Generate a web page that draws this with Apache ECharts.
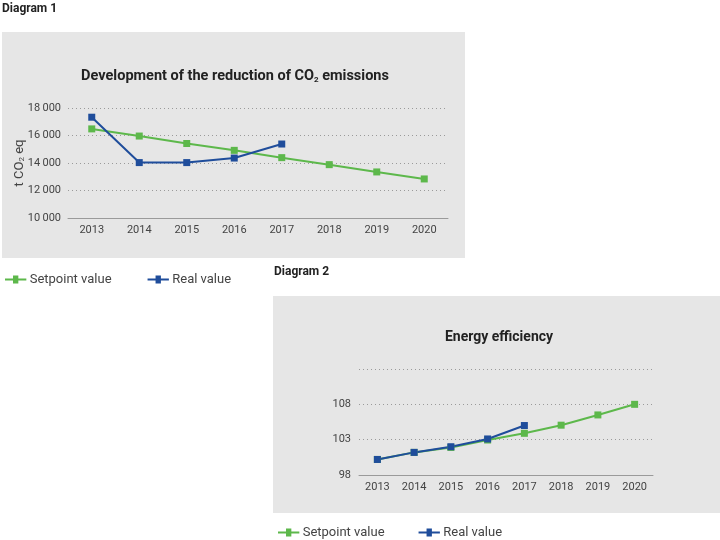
<!DOCTYPE html>
<html>
<head>
<meta charset="utf-8">
<script src="https://cdn.jsdelivr.net/npm/echarts@6/dist/echarts.min.js"></script>
<style>
  html, body { margin: 0; padding: 0; background: #fff; }
  #chart { width: 720px; height: 540px; }
</style>
</head>
<body>
<div id="chart"></div>
<script>
// shared categories
const years = ['2013', '2014', '2015', '2016', '2017', '2018', '2019', '2020'];

// Diagram 1: CO2 emissions (t CO2 eq)
const co2Setpoint = [16480, 15960, 15420, 14920, 14390, 13880, 13350, 12840];
const co2Real = [17330, 14030, 14030, 14360, 15380];
const co2Ticks = [10000, 12000, 14000, 16000, 18000];

// Diagram 2: energy efficiency
const effSetpoint = [100.2, 101.2, 101.9, 102.95, 103.9, 105.05, 106.5, 108.0];
const effReal = [100.2, 101.2, 102.0, 103.1, 105.0];
const effTicks = [98, 103, 108];

const GREEN = '#5db84b';
const BLUE = '#1f4d9b';
const FONT = 'Roboto, "Liberation Sans", sans-serif';
// line with a square in the middle, like the printed legend
const LEGEND_ICON = 'path://M0,3.5 L9,3.5 L9,0 L15,0 L15,3.5 L24,3.5 L24,5.5 L15,5.5 L15,9 L9,9 L9,5.5 L0,5.5 Z';

const chart = echarts.init(document.getElementById('chart'));

function lineSeries(name, data, color, idx) {
  return {
    name: name,
    type: 'line',
    xAxisIndex: idx,
    yAxisIndex: idx,
    data: data,
    symbol: 'rect',
    symbolSize: 7,
    lineStyle: { color: color, width: 2 },
    itemStyle: { color: color },
    emphasis: { disabled: true },
    animation: false
  };
}

function catAxis(idx) {
  return {
    type: 'category',
    gridIndex: idx,
    data: years,
    boundaryGap: true,
    axisLine: { lineStyle: { color: '#9a9a9a', width: 1 } },
    axisTick: { inside: true, length: 4, lineStyle: { color: '#9a9a9a' } },
    axisLabel: { color: '#444', fontSize: 11, fontFamily: FONT, margin: 7 },
    splitLine: { show: false }
  };
}

function legendAt(left, top, gap) {
  return {
    left: left, top: top,
    itemWidth: 22, itemHeight: 8, itemGap: gap,
    icon: LEGEND_ICON,
    data: [
      { name: 'Setpoint value', itemStyle: { color: GREEN } },
      { name: 'Real value', itemStyle: { color: BLUE } }
    ],
    textStyle: { fontSize: 13, color: '#444', fontFamily: FONT, padding: [0, 0, 0, -2] },
    selectedMode: false
  };
}

const gridLine = { show: true, lineStyle: { type: [1, 3], color: '#9a9a9a', width: 1 } };

const option = {
  backgroundColor: '#fff',
  textStyle: { fontFamily: FONT },
  graphic: [
    { type: 'rect', left: 2, top: 32, shape: { width: 463, height: 226 }, style: { fill: '#e6e6e6' }, z: -10 },
    { type: 'rect', left: 273, top: 296, shape: { width: 447, height: 217 }, style: { fill: '#e6e6e6' }, z: -10 },
    { type: 'text', left: 2, top: 3, style: { text: 'Diagram 1', font: 'bold 12px ' + FONT, fill: '#222' } },
    { type: 'text', left: 274, top: 266, style: { text: 'Diagram 2', font: 'bold 12px ' + FONT, fill: '#222' } }
  ],
  title: [
    {
      text: 'Development of the reduction of CO{sub|2} emissions',
      left: 230, top: 63, textAlign: 'center',
      textStyle: {
        fontSize: 14.5, fontWeight: 'bold', color: '#222', fontFamily: FONT,
        rich: { sub: { fontSize: 8, fontWeight: 'bold', color: '#222', verticalAlign: 'bottom', padding: [8, 0, 0, 0] } }
      }
    },
    {
      text: 'Energy efficiency',
      left: 494, top: 325, textAlign: 'center',
      textStyle: { fontSize: 14, fontWeight: 'bold', color: '#222', fontFamily: FONT }
    }
  ],
  legend: [legendAt(0, 268, 36), legendAt(273, 521, 34)],
  grid: [
    { left: 68, right: 272, top: 108, bottom: 322 },
    { left: 359, right: 67, top: 369, bottom: 65 }
  ],
  xAxis: [catAxis(0), catAxis(1)],
  yAxis: [
    {
      type: 'value', gridIndex: 0,
      min: co2Ticks[0], max: co2Ticks[co2Ticks.length - 1], interval: 2000,
      name: 't CO{sub|2} eq', nameLocation: 'middle', nameRotate: 90, nameGap: 42,
      nameMoveOverlap: false,
      nameTextStyle: {
        fontSize: 13, color: '#444', fontFamily: FONT,
        rich: { sub: { fontSize: 8, color: '#444', verticalAlign: 'bottom' } }
      },
      axisLine: { show: false },
      axisTick: { show: false },
      axisLabel: {
        color: '#444', fontSize: 11, fontFamily: FONT, margin: 7,
        formatter: v => co2Ticks.includes(v) ? String(v).replace(/(\d+)(\d{3})$/, '$1\u2009$2') : ''
      },
      splitLine: gridLine
    },
    {
      type: 'value', gridIndex: 1,
      min: 98, max: 113, interval: 5,
      axisLine: { show: false },
      axisTick: { show: false },
      axisLabel: {
        color: '#444', fontSize: 11, fontFamily: FONT, margin: 8,
        formatter: v => effTicks.includes(v) ? String(v) : ''
      },
      splitLine: gridLine
    }
  ],
  series: [
    lineSeries('Setpoint value', co2Setpoint, GREEN, 0),
    lineSeries('Real value', co2Real, BLUE, 0),
    lineSeries('Setpoint value', effSetpoint, GREEN, 1),
    lineSeries('Real value', effReal, BLUE, 1)
  ]
};

chart.setOption(option);
</script>
</body>
</html>
